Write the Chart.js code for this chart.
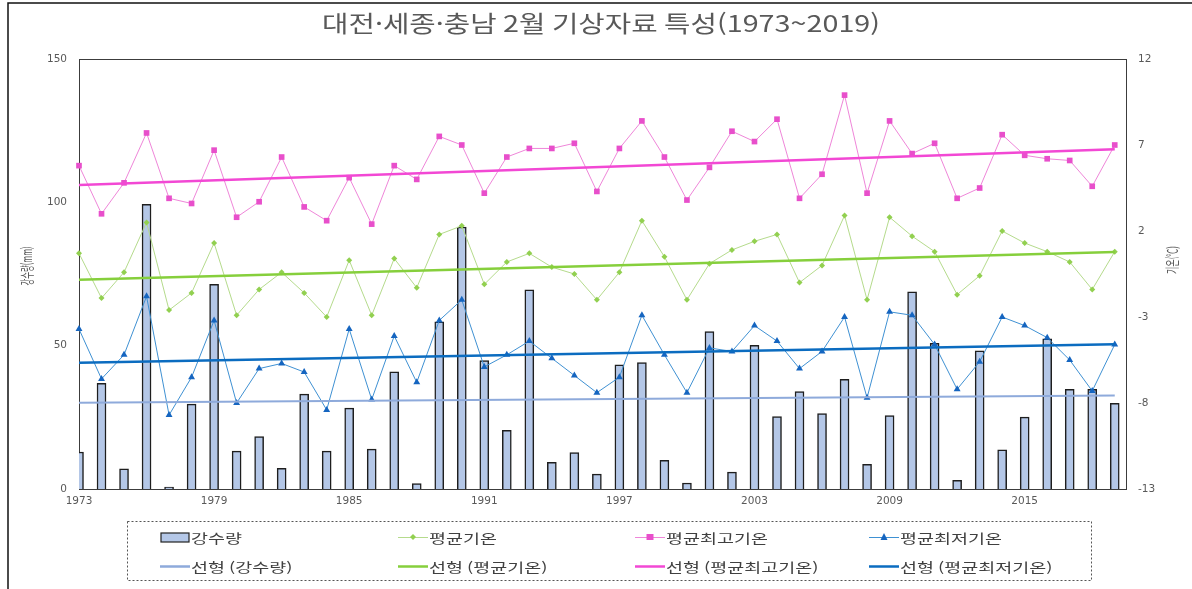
<!DOCTYPE html>
<html lang="ko">
<head>
    <meta charset="UTF-8">
    <title>대전·세종·충남 2월 기상자료 특성</title>
    <script src="https://cdn.jsdelivr.net/npm/chart.js"></script>
    <style>
        html, body { margin: 0; padding: 0; background: #fff; }
        #wrap { width: 1192px; height: 589px; }
    </style>
</head>
<body>
<div id="wrap"><canvas id="myChart" width="1192" height="589"></canvas></div>
<script>
    // 연도 (1973~2019)
    const years = [1973, 1974, 1975, 1976, 1977, 1978, 1979, 1980, 1981, 1982, 1983, 1984, 1985,
        1986, 1987, 1988, 1989, 1990, 1991, 1992, 1993, 1994, 1995, 1996, 1997,
        1998, 1999, 2000, 2001, 2002, 2003, 2004, 2005, 2006, 2007, 2008, 2009, 2010,
        2011, 2012, 2013, 2014, 2015, 2016, 2017, 2018, 2019];

    // 강수량 (mm)
    const precip = [12.9, 36.9, 7.0, 99.3, 0.7, 29.6, 71.4, 13.2, 18.3, 7.2, 33.1, 13.2, 28.2,
        13.9, 40.9, 1.9, 58.3, 91.4, 44.8, 20.5, 69.5, 9.3, 12.7, 5.2, 43.3,
        44.1, 10.0, 2.1, 54.9, 5.9, 50.1, 25.3, 34.0, 26.3, 38.3, 8.6, 25.6, 68.8,
        50.8, 3.0, 48.2, 13.7, 25.1, 52.4, 34.8, 34.8, 29.9];

    // 평균기온 (℃)
    const meanTemp = [0.7, -1.9, -0.4, 2.5, -2.6, -1.6, 1.3, -2.9, -1.4, -0.4, -1.6, -3.0, 0.3,
        -2.9, 0.4, -1.3, 1.8, 2.3, -1.1, 0.2, 0.7, -0.1, -0.5, -2.0, -0.4,
        2.6, 0.5, -2.0, 0.1, 0.9, 1.4, 1.8, -1.0, 0.0, 2.9, -2.0, 2.8, 1.7,
        0.8, -1.7, -0.6, 2.0, 1.3, 0.8, 0.2, -1.4, 0.8];

    // 평균최고기온 (℃)
    const maxTemp = [5.8, 3.0, 4.8, 7.7, 3.9, 3.6, 6.7, 2.8, 3.7, 6.3, 3.4, 2.6, 5.1,
        2.4, 5.8, 5.0, 7.5, 7.0, 4.2, 6.3, 6.8, 6.8, 7.1, 4.3, 6.8,
        8.4, 6.3, 3.8, 5.7, 7.8, 7.2, 8.5, 3.9, 5.3, 9.9, 4.2, 8.4, 6.5,
        7.1, 3.9, 4.5, 7.6, 6.4, 6.2, 6.1, 4.6, 7.0];

    // 평균최저기온 (℃)
    const minTemp = [-3.7, -6.6, -5.2, -1.8, -8.7, -6.5, -3.2, -8.0, -6.0, -5.7, -6.2, -8.4, -3.7,
        -7.8, -4.1, -6.8, -3.2, -2.0, -5.9, -5.2, -4.4, -5.4, -6.4, -7.4, -6.5,
        -2.9, -5.2, -7.4, -4.8, -5.0, -3.5, -4.4, -6.0, -5.0, -3.0, -7.7, -2.7, -2.9,
        -4.6, -7.2, -5.6, -3.0, -3.5, -4.2, -5.5, -7.3, -4.6];

    // 선형 추세선 (시작/끝 값, 그림에서 읽음)
    const trendYears = [1973, 2019];
    const trendPrecip = [30.1, 32.6];
    const trendMean = [-0.83, 0.78];
    const trendMax = [4.67, 6.75];
    const trendMin = [-5.66, -4.59];

    // 눈금
    const yearTicks = [1973, 1979, 1985, 1991, 1997, 2003, 2009, 2015];
    const precipTicks = [0, 50, 100, 150];
    const tempTicks = [-13, -8, -3, 2, 7, 12];

    const KR = '"Noto Sans CJK KR", "Noto Sans", sans-serif';
    const TICK_FONT = { family: '"DejaVu Sans", "Noto Sans", sans-serif', size: 10.5 };

    function pts(xs, ys) {
        return xs.map((x, i) => ({ x: x, y: ys[i] }));
    }

    // 가로로 늘린 글자 (원본 그림이 가로로 늘어나 있음)
    function stretchText(ctx, text, x, y, sx, align) {
        ctx.save();
        ctx.translate(x, y);
        ctx.scale(sx, 1);
        ctx.textAlign = align || 'left';
        ctx.fillText(text, 0, 0);
        ctx.restore();
    }

    // 범례 항목
    const legendItems = [
        { text: '강수량', kind: 'bar', col: 0, row: 0 },
        { text: '평균기온', kind: 'line', color: '#b5db8c', mcolor: '#92d050', marker: 'diamond', col: 1, row: 0 },
        { text: '평균최고기온', kind: 'line', color: '#ef86d9', mcolor: '#e84fcb', marker: 'square', col: 2, row: 0 },
        { text: '평균최저기온', kind: 'line', color: '#3f91d3', mcolor: '#1565c0', marker: 'triangle', col: 3, row: 0 },
        { text: '선형 (강수량)', kind: 'trend', color: '#8eaadb', col: 0, row: 1 },
        { text: '선형 (평균기온)', kind: 'trend', color: '#86cf3c', col: 1, row: 1 },
        { text: '선형 (평균최고기온)', kind: 'trend', color: '#f248d4', col: 2, row: 1 },
        { text: '선형 (평균최저기온)', kind: 'trend', color: '#0b6cc0', col: 3, row: 1 }
    ];

    const deco = {
        id: 'deco',
        beforeDraw(chart) {
            const ctx = chart.ctx;
            ctx.save();
            ctx.fillStyle = '#fff';
            ctx.fillRect(0, 0, chart.width, chart.height);
            ctx.restore();
        },
        beforeDatasetsDraw(chart) {
            const ctx = chart.ctx, a = chart.chartArea;
            ctx.save();
            ctx.strokeStyle = '#3c3c3c';
            ctx.lineWidth = 1;
            ctx.strokeRect(Math.round(a.left) + 0.5, Math.round(a.top) + 0.5,
                Math.round(a.right - a.left), Math.round(a.bottom - a.top));
            ctx.restore();
        },
        afterDraw(chart) {
            const ctx = chart.ctx;
            ctx.save();

            // 바깥 테두리 (위, 왼쪽)
            ctx.strokeStyle = '#111';
            ctx.lineWidth = 1.5;
            ctx.beginPath();
            ctx.moveTo(8, chart.height);
            ctx.lineTo(8, 3);
            ctx.lineTo(chart.width, 3);
            ctx.stroke();

            // 제목
            ctx.fillStyle = '#595959';
            ctx.textBaseline = 'middle';
            const title = '대전·세종·충남 2월 기상자료 특성(1973~2019)';
            ctx.font = '23px ' + KR;
            const tw = ctx.measureText(title).width;
            stretchText(ctx, title, 601, 23, 558 / tw, 'center');

            // 축 제목 (아래에서 위로)
            ctx.font = '14px ' + KR;
            ctx.save();
            ctx.translate(27, 266);
            ctx.rotate(-Math.PI / 2);
            stretchText(ctx, '강수량(mm)', 0, 0, 39 / ctx.measureText('강수량(mm)').width, 'center');
            ctx.restore();
            ctx.save();
            ctx.translate(1172, 260);
            ctx.rotate(-Math.PI / 2);
            stretchText(ctx, '기온(℃)', 0, 0, 28 / ctx.measureText('기온(℃)').width, 'center');
            ctx.restore();

            // 범례 상자 (점선)
            ctx.strokeStyle = '#555';
            ctx.lineWidth = 1;
            ctx.setLineDash([2, 2]);
            ctx.strokeRect(127.5, 521.5, 964, 59);
            ctx.setLineDash([]);

            const colX = [160, 398, 635, 869];
            const rowY = [537, 566];
            ctx.font = '13px ' + KR;
            legendItems.forEach(it => {
                const x = colX[it.col], y = rowY[it.row];
                if (it.kind === 'bar') {
                    ctx.fillStyle = '#b4c7e7';
                    ctx.fillRect(x + 1, y - 4, 28, 9);
                    ctx.strokeStyle = '#222';
                    ctx.lineWidth = 1.2;
                    ctx.strokeRect(x + 1, y - 4, 28, 9);
                } else if (it.kind === 'line') {
                    ctx.strokeStyle = it.color;
                    ctx.lineWidth = 1;
                    ctx.beginPath();
                    ctx.moveTo(x, y + 0.5);
                    ctx.lineTo(x + 30, y + 0.5);
                    ctx.stroke();
                    ctx.fillStyle = it.mcolor;
                    const cx = x + 15;
                    ctx.beginPath();
                    if (it.marker === 'diamond') {
                        ctx.moveTo(cx, y - 3); ctx.lineTo(cx + 3, y); ctx.lineTo(cx, y + 3); ctx.lineTo(cx - 3, y);
                    } else if (it.marker === 'square') {
                        ctx.rect(cx - 3.5, y - 3, 7, 6);
                    } else {
                        ctx.moveTo(cx, y - 4); ctx.lineTo(cx + 3.5, y + 3); ctx.lineTo(cx - 3.5, y + 3);
                    }
                    ctx.closePath();
                    ctx.fill();
                } else {
                    ctx.strokeStyle = it.color;
                    ctx.lineWidth = 2.5;
                    ctx.beginPath();
                    ctx.moveTo(x, y + 0.5);
                    ctx.lineTo(x + 30, y + 0.5);
                    ctx.stroke();
                }
                ctx.fillStyle = '#404040';
                ctx.textBaseline = 'middle';
                stretchText(ctx, it.text, x + 31, y + 1, 1.42, 'left');
            });
            ctx.restore();
        }
    };

    const config = {
        type: 'bar',
        data: {
            datasets: [
                {
                    type: 'line', label: '선형 (평균최고기온)', data: pts(trendYears, trendMax), yAxisID: 'y2',
                    borderColor: '#f248d4', borderWidth: 2.5, pointRadius: 0, order: 1, clip: false
                },
                {
                    type: 'line', label: '선형 (평균기온)', data: pts(trendYears, trendMean), yAxisID: 'y2',
                    borderColor: '#86cf3c', borderWidth: 2.5, pointRadius: 0, order: 1, clip: false
                },
                {
                    type: 'line', label: '선형 (평균최저기온)', data: pts(trendYears, trendMin), yAxisID: 'y2',
                    borderColor: '#0b6cc0', borderWidth: 2.5, pointRadius: 0, order: 1, clip: false
                },
                {
                    type: 'line', label: '선형 (강수량)', data: pts(trendYears, trendPrecip), yAxisID: 'y',
                    borderColor: '#8eaadb', borderWidth: 2, pointRadius: 0, order: 1, clip: false
                },
                {
                    type: 'line', label: '평균최고기온', data: pts(years, maxTemp), yAxisID: 'y2',
                    borderColor: '#ef86d9', borderWidth: 1, pointStyle: 'rect', pointRadius: 4,
                    pointBackgroundColor: '#e84fcb', pointBorderColor: '#e84fcb', pointBorderWidth: 0,
                    order: 2, clip: false
                },
                {
                    type: 'line', label: '평균기온', data: pts(years, meanTemp), yAxisID: 'y2',
                    borderColor: '#b5db8c', borderWidth: 1, pointStyle: 'rectRot', pointRadius: 3,
                    pointBackgroundColor: '#92d050', pointBorderColor: '#92d050', pointBorderWidth: 0,
                    order: 2, clip: false
                },
                {
                    type: 'line', label: '평균최저기온', data: pts(years, minTemp), yAxisID: 'y2',
                    borderColor: '#3f91d3', borderWidth: 1, pointStyle: 'triangle', pointRadius: 4,
                    pointBackgroundColor: '#1565c0', pointBorderColor: '#1565c0', pointBorderWidth: 0,
                    order: 2, clip: false
                },
                {
                    type: 'bar', label: '강수량', data: pts(years, precip), yAxisID: 'y',
                    backgroundColor: '#b4c7e7', borderColor: '#1e1e1e', borderWidth: 1.5,
                    barThickness: 9, order: 10
                }
            ]
        },
        options: {
            responsive: false,
            animation: false,
            layout: { padding: { top: 59, left: 0, right: 0, bottom: 0 } },
            plugins: {
                legend: { display: false },
                title: { display: false },
                tooltip: { enabled: false }
            },
            scales: {
                x: {
                    type: 'linear',
                    min: 1973,
                    max: 2019.5,
                    offset: false,
                    grid: { display: false, drawTicks: false },
                    border: { display: false },
                    afterBuildTicks: s => { s.ticks = yearTicks.map(v => ({ value: v })); },
                    afterFit: s => { s.height = 100; },
                    ticks: {
                        color: '#595959', font: TICK_FONT, padding: 6, maxRotation: 0,
                        autoSkip: false, callback: v => String(v)
                    }
                },
                y: {
                    position: 'left',
                    min: 0, max: 150,
                    grid: { display: false, drawTicks: false },
                    border: { display: false },
                    afterBuildTicks: s => { s.ticks = precipTicks.map(v => ({ value: v })); },
                    afterFit: s => { s.width = 79; },
                    ticks: { color: '#595959', font: TICK_FONT, padding: 12 }
                },
                y2: {
                    position: 'right',
                    min: -13, max: 12,
                    grid: { display: false, drawTicks: false },
                    border: { display: false },
                    afterBuildTicks: s => { s.ticks = tempTicks.map(v => ({ value: v })); },
                    afterFit: s => { s.width = 66; },
                    ticks: { color: '#595959', font: TICK_FONT, padding: 12 }
                }
            }
        },
        plugins: [deco]
    };

    const myChart = new Chart(document.getElementById('myChart'), config);
</script>
</body>
</html>
